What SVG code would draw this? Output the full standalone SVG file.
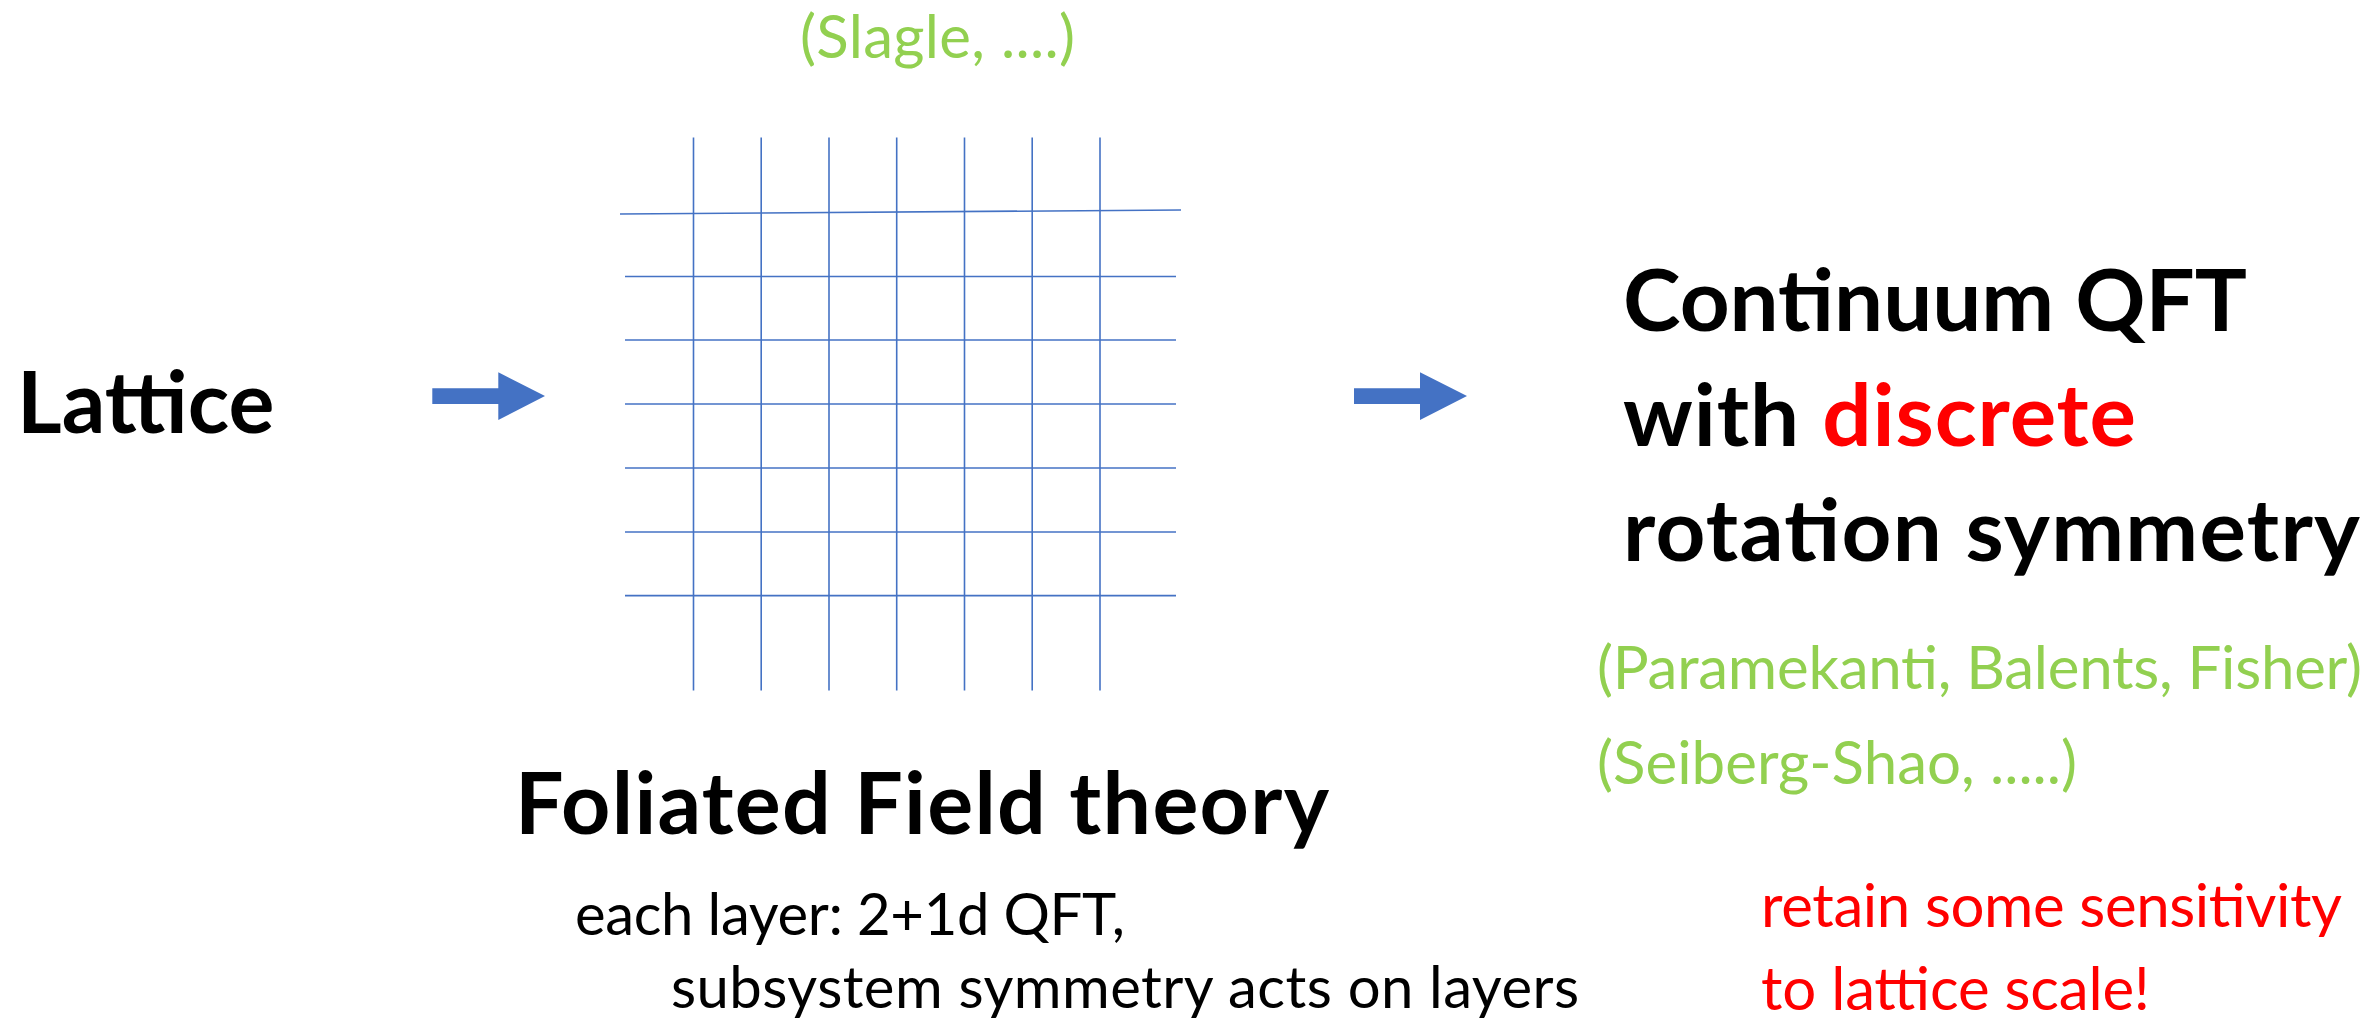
<svg xmlns="http://www.w3.org/2000/svg" width="2374" height="1019" viewBox="0 0 2374 1019">
<style>
text{font-family:Lato,"Open Sans","Liberation Sans",sans-serif}
.b{font-weight:bold;fill:#000}
.g{fill:#92D050;font-size:60px}
.r{fill:#FF0000}
.sub{fill:#000;font-size:58px}
.grid line{stroke:#4472C4;stroke-width:1.6}
.arrow{fill:#4472C4}
</style>
<rect width="2374" height="1019" fill="#fff"/>
<g id="lattice">
<text class="b" x="17" y="433" font-size="86">Lattice</text>
</g>
<g id="foliated">
<text class="g" x="800" y="58" textLength="275">(Slagle, ....)</text>
<g class="grid">
<line x1="693.5" y1="137.4" x2="693.5" y2="690.6"/>
<line x1="761.2" y1="137.4" x2="761.2" y2="690.6"/>
<line x1="829" y1="137.4" x2="829" y2="690.6"/>
<line x1="896.7" y1="137.4" x2="896.7" y2="690.6"/>
<line x1="964.5" y1="137.4" x2="964.5" y2="690.6"/>
<line x1="1032.2" y1="137.4" x2="1032.2" y2="690.6"/>
<line x1="1100" y1="137.4" x2="1100" y2="690.6"/>
<line x1="620" y1="214" x2="1181" y2="210"/>
<line x1="625" y1="276.5" x2="1176" y2="276.5"/>
<line x1="625" y1="340" x2="1176" y2="340"/>
<line x1="625" y1="404" x2="1176" y2="404"/>
<line x1="625" y1="468" x2="1176" y2="468"/>
<line x1="625" y1="532" x2="1176" y2="532"/>
<line x1="625" y1="595.6" x2="1176" y2="595.6"/>
</g>
<text class="b" x="515" y="834" font-size="86" textLength="814">Foliated Field theory</text>
<text class="sub" x="575" y="935" textLength="550">each layer: 2+1d QFT,</text>
<text class="sub" x="671" y="1008" textLength="908">subsystem symmetry acts on layers</text>
</g>
<g id="continuum">
<text class="b" x="1623" y="331" font-size="87">Continuum QFT</text>
<text class="b" x="1623" y="446" font-size="87" textLength="513">with <tspan class="r">discrete</tspan></text>
<text class="b" x="1623" y="561" font-size="87" textLength="737">rotation symmetry</text>
<text class="g" x="1597" y="689" textLength="765">(Paramekanti, Balents, Fisher)</text>
<text class="g" x="1597" y="784" textLength="480">(Seiberg-Shao, .....)</text>
<text class="r" x="1761" y="927" font-size="60" textLength="581">retain some sensitivity</text>
<text class="r" x="1761" y="1010" font-size="60" textLength="389">to lattice scale!</text>
</g>
<g id="connectors">
<polygon class="arrow" points="432.3,388.3 498.3,388.3 498.3,372.3 545,396 498.3,420 498.3,404 432.3,404"/>
<polygon class="arrow" points="1354,388.3 1420,388.3 1420,372.3 1467,396 1420,420 1420,404 1354,404"/>
</g>
</svg>
